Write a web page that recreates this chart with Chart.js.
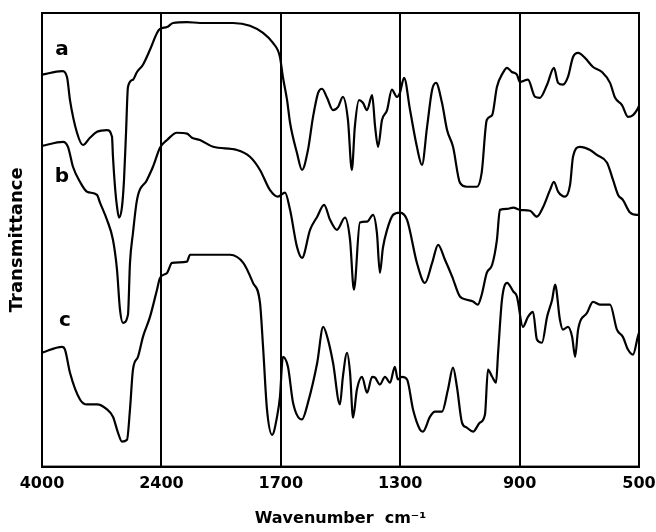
<!DOCTYPE html>
<html>
<head>
<meta charset="utf-8">
<script src="https://cdn.jsdelivr.net/npm/chart.js@4/dist/chart.umd.min.js"></script>
<style>
  html, body { margin: 0; padding: 0; background: #fff; }
  #wrap { width: 656px; height: 532px; }
</style>
</head>
<body>
<div id="wrap"><canvas id="irChart" width="656" height="532"></canvas></div>
<script>
// axis breaks: each interval gets the same width on the paper chart
const tickWn = [4000, 2400, 1700, 1300, 900, 500];

// spectrum a
const aWn = [4000, 3732, 3665, 3625, 3531, 3451, 3357, 3263, 3129, 3062, 3049, 3022, 2995, 2968, 2928, 2901, 2874, 2848, 2781, 2727, 2647, 2553, 2459, 2419,
  2367, 2332, 2250, 2174, 1980, 1881, 1804, 1746, 1705,
  1693, 1679, 1669, 1646, 1629, 1609, 1592, 1575, 1562, 1545, 1525, 1508, 1492, 1475, 1462, 1452, 1438, 1425, 1411, 1394, 1384, 1374, 1361, 1344, 1328, 1311, 1301,
  1287, 1267, 1244, 1227, 1210, 1193, 1180, 1160, 1143, 1123, 1100, 1077, 1043, 1027, 1010, 992, 976, 956, 942, 926, 909,
  899, 872, 848, 832, 808, 785, 771, 755, 738, 721, 704, 681, 654, 624, 597, 580, 557, 537, 520, 507, 500];
const aT = [86.4, 87.2, 85.9, 80.8, 73.6, 70.9, 72.5, 73.8, 74.2, 72.7, 68.3, 61.7, 57.3, 54.9, 57.3, 63.2, 73.6, 83.7, 85.3, 87.0, 88.6, 91.9, 95.6, 96.5,
  96.9, 97.8, 98.0, 97.8, 97.8, 97.2, 95.6, 93.4, 90.3,
  85.9, 80.8, 75.8, 69.2, 65.4, 69.8, 77.1, 82.4, 83.3, 81.3, 78.6, 79.3, 81.5, 76.4, 65.4, 74.9, 80.8, 80.2, 78.6, 81.9, 74.9, 70.5, 76.4, 78.6, 83.1, 81.5, 82.4,
  85.7, 78.6, 70.5, 66.5, 74.9, 83.1, 84.6, 80.2, 74.2, 70.5, 62.6, 61.7, 61.7, 64.8, 76.4, 77.5, 83.7, 86.8, 87.9, 87.0, 86.4,
  84.8, 85.3, 81.5, 81.3, 84.2, 87.9, 84.6, 84.2, 85.9, 90.3, 91.2, 90.1, 88.1, 87.0, 84.6, 81.3, 79.7, 77.1, 77.5, 78.6, 79.5];

// spectrum b
const bWn = [4000, 3719, 3652, 3585, 3491, 3397, 3263, 3223, 3129, 3049, 2995, 2955, 2915, 2848, 2821, 2781, 2727, 2593, 2513, 2419,
  2367, 2309, 2250, 2221, 2174, 2097, 1957, 1881, 1822, 1764, 1717,
  1686, 1669, 1646, 1629, 1602, 1578, 1555, 1535, 1512, 1485, 1468, 1455, 1435, 1411, 1391, 1378, 1368, 1358, 1344, 1324, 1301,
  1277, 1244, 1217, 1193, 1173, 1150, 1126, 1100, 1077, 1056, 1040, 1027, 1010, 992, 976, 966, 942, 921,
  899, 865, 842, 822, 798, 785, 771, 748, 731, 721, 698, 664, 641, 607, 587, 570, 554, 530, 507, 500];
const bT = [70.7, 71.6, 70.5, 66.1, 62.8, 60.6, 59.9, 58.2, 54.4, 50.0, 43.4, 34.6, 31.7, 33.5, 44.9, 51.5, 58.8, 63.2, 66.1, 70.3,
  72.0, 73.6, 73.4, 72.5, 72.0, 70.5, 69.8, 68.3, 65.4, 61.0, 59.5,
  60.4, 56.6, 48.5, 46.0, 52.2, 55.1, 57.7, 54.4, 52.2, 54.9, 50.0, 39.0, 53.8, 54.0, 55.5, 51.5, 42.7, 48.2, 52.2, 55.5, 56.0,
  54.4, 44.9, 40.5, 44.9, 48.9, 45.6, 41.9, 37.5, 36.8, 36.4, 35.7, 37.9, 42.7, 44.5, 50.0, 56.6, 56.8, 57.1,
  56.6, 56.4, 55.1, 57.1, 61.0, 62.8, 60.6, 59.5, 62.1, 68.3, 70.5, 69.8, 68.7, 67.0, 63.2, 59.9, 58.8, 56.0, 55.5, 55.5];

// spectrum c
const cWn = [4000, 3732, 3692, 3625, 3491, 3397, 3263, 3129, 3049, 2982, 2928, 2861, 2821, 2781, 2714, 2647, 2553, 2459, 2419,
  2367, 2338, 2250, 2232, 1998, 1920, 1863, 1822, 1804, 1781, 1751, 1722, 1705,
  1693, 1676, 1659, 1629, 1609, 1578, 1558, 1542, 1525, 1502, 1492, 1478, 1468, 1458, 1445, 1428, 1411, 1394, 1384, 1368, 1351, 1334, 1318, 1308,
  1294, 1277, 1257, 1234, 1224, 1200, 1183, 1160, 1140, 1123, 1110, 1093, 1077, 1056, 1033, 1016, 1006, 992, 979, 972, 959, 942, 921, 909,
  889, 872, 855, 842, 825, 808, 791, 781, 765, 755, 738, 724, 714, 704, 674, 654, 630, 597, 574, 554, 537, 520, 504, 500];
const cT = [25.1, 26.4, 25.8, 20.7, 14.8, 13.7, 13.7, 12.6, 11.0, 7.5, 5.5, 5.9, 12.6, 21.4, 24.2, 28.6, 33.0, 39.0, 41.6,
  42.7, 44.9, 45.2, 46.7, 46.7, 44.9, 40.5, 36.1, 26.4, 12.6, 7.0, 11.0, 15.4,
  24.2, 22.0, 14.1, 10.4, 14.1, 22.9, 30.8, 28.0, 22.9, 13.7, 19.8, 25.1, 20.7, 10.8, 17.0, 19.8, 16.3, 19.8, 19.6, 18.1, 19.8, 18.5, 22.0, 19.2,
  19.8, 19.2, 12.6, 8.2, 7.7, 11.0, 12.1, 12.1, 17.0, 21.8, 17.6, 9.7, 8.6, 7.7, 9.7, 11.5, 21.4, 19.8, 18.5, 25.1, 36.8, 40.5, 38.6, 37.5,
  30.8, 33.0, 34.1, 28.0, 27.3, 33.0, 36.8, 40.1, 32.4, 30.2, 30.8, 28.6, 24.2, 30.2, 33.9, 36.3, 35.7, 35.7, 30.2, 28.6, 25.8, 24.7, 28.6, 29.5];

// curve labels: [text, wavenumber, transmittance]
const curveLabels = [['a', 3732, 91.9], ['b', 3732, 63.9], ['c', 3692, 32.2]];

// wavenumber -> position on the segmented axis (0..5)
function pos(wn) {
  for (let i = 0; i < tickWn.length - 1; i++) {
    const hi = tickWn[i], lo = tickWn[i + 1];
    if (wn <= hi && wn >= lo) return i + (hi - wn) / (hi - lo);
  }
  return wn > tickWn[0] ? 0 : tickWn.length - 1;
}

const toPoints = (wn, t) => wn.map((w, i) => ({ x: pos(w), y: t[i] }));

const lineSet = (label, wn, t) => ({
  label: label,
  data: toPoints(wn, t),
  borderColor: '#000',
  borderWidth: 2.2,
  pointRadius: 0,
  cubicInterpolationMode: 'monotone',
  fill: false
});

const fontFam = '"DejaVu Sans", "Liberation Sans", sans-serif';

// frame around the plot + the a/b/c letters
const framePlugin = {
  id: 'frame',
  afterDatasetsDraw(chart) {
    const { ctx, chartArea: ca, scales } = chart;
    ctx.save();
    ctx.strokeStyle = '#000';
    ctx.lineWidth = 2;
    ctx.strokeRect(ca.left, ca.top, ca.right - ca.left, ca.bottom - ca.top);
    ctx.fillStyle = '#000';
    ctx.font = 'bold 20px ' + fontFam;
    ctx.textAlign = 'center';
    ctx.textBaseline = 'middle';
    curveLabels.forEach(([txt, wn, t]) => {
      ctx.fillText(txt, scales.x.getPixelForValue(pos(wn)), scales.y.getPixelForValue(t));
    });
    ctx.restore();
  }
};

new Chart(document.getElementById('irChart'), {
  type: 'line',
  data: {
    datasets: [
      lineSet('a', aWn, aT),
      lineSet('b', bWn, bT),
      lineSet('c', cWn, cT)
    ]
  },
  options: {
    responsive: false,
    animation: false,
    layout: { padding: { left: 3, right: 17, top: 13, bottom: 4 } },
    plugins: { legend: { display: false }, tooltip: { enabled: false } },
    scales: {
      x: {
        type: 'linear',
        min: 0,
        max: 5,
        afterBuildTicks: (axis) => { axis.ticks = tickWn.map((w, i) => ({ value: i })); },
        // let the end labels hang over the edges like on the paper chart
        afterFit: (axis) => { axis.paddingLeft = 0; axis.paddingRight = 0; },
        ticks: {
          autoSkip: false,
          maxRotation: 0,
          padding: 8,
          color: '#000',
          font: { family: fontFam, size: 16, weight: 'bold' },
          callback: (v) => String(tickWn[Math.round(v)])
        },
        grid: { color: '#000', lineWidth: 2, drawTicks: false },
        border: { color: '#000', width: 2 },
        title: {
          display: true,
          text: 'Wavenumber  cm\u207B\u00B9',
          color: '#000',
          font: { family: fontFam, size: 16, weight: 'bold' },
          padding: { top: 7, bottom: 0 }
        }
      },
      y: {
        min: 0,
        max: 100,
        ticks: { display: false },
        grid: { display: false, drawTicks: false },
        border: { display: false },
        title: {
          display: true,
          text: 'Transmittance',
          color: '#000',
          font: { family: fontFam, size: 18, weight: 'bold' },
          padding: { top: 4, bottom: 13.4 }
        }
      }
    }
  },
  plugins: [framePlugin]
});
</script>
</body>
</html>
